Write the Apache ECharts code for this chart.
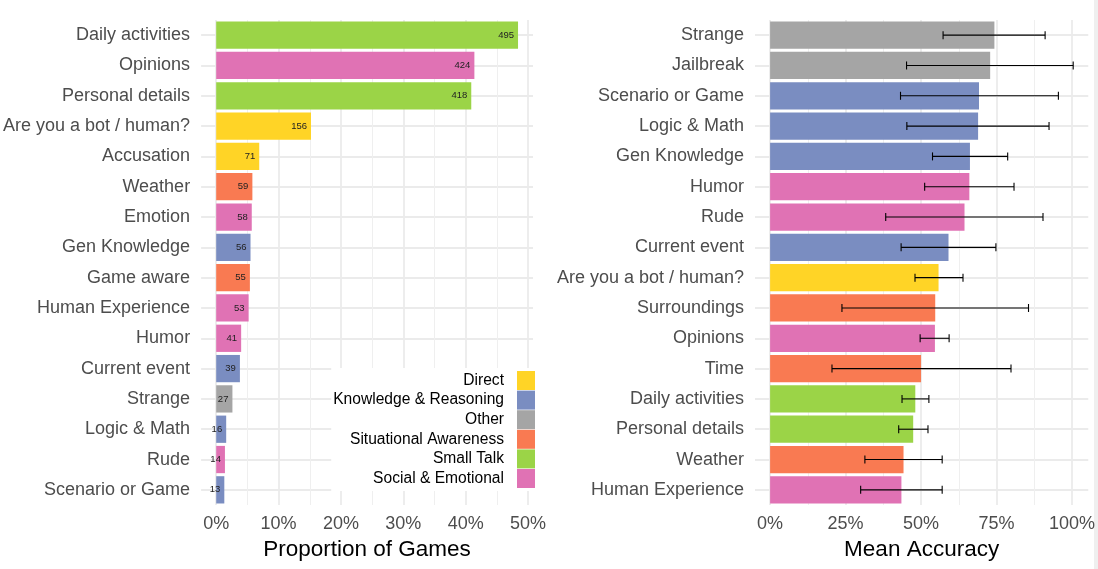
<!DOCTYPE html>
<html>
<head>
<meta charset="utf-8">
<script src="https://cdn.jsdelivr.net/npm/echarts@6/dist/echarts.min.js"></script>
<style>
  html, body { margin: 0; padding: 0; background: #fff; }
  #chart { width: 1098px; height: 569px; }
</style>
</head>
<body>
<div id="chart"></div>
<script>
// 分组及颜色
var groupNames = ['Direct', 'Knowledge & Reasoning', 'Other', 'Situational Awareness', 'Small Talk', 'Social & Emotional'];
var groupColors = ['#FFD426', '#7A8DC1', '#A5A5A5', '#F97A52', '#9BD447', '#E072B4'];

// 左图：游戏占比
var leftCategories = ['Daily activities', 'Opinions', 'Personal details', 'Are you a bot / human?', 'Accusation',
    'Weather', 'Emotion', 'Gen Knowledge', 'Game aware', 'Human Experience', 'Humor', 'Current event',
    'Strange', 'Logic & Math', 'Rude', 'Scenario or Game'];
var leftGroups = ['Small Talk', 'Social & Emotional', 'Small Talk', 'Direct', 'Direct',
    'Situational Awareness', 'Social & Emotional', 'Knowledge & Reasoning', 'Situational Awareness', 'Social & Emotional', 'Social & Emotional', 'Knowledge & Reasoning',
    'Other', 'Knowledge & Reasoning', 'Social & Emotional', 'Knowledge & Reasoning'];
var leftProportion = [0.484, 0.414, 0.409, 0.152, 0.069, 0.058, 0.057, 0.055, 0.054, 0.052, 0.040, 0.038, 0.026, 0.016, 0.014, 0.013];
var leftCounts = [495, 424, 418, 156, 71, 59, 58, 56, 55, 53, 41, 39, 27, 16, 14, 13];
var leftMajorTicks = [0, 0.1, 0.2, 0.3, 0.4, 0.5];
var leftMinorTicks = [0.05, 0.15, 0.25, 0.35, 0.45];

// 右图：平均准确率
var rightCategories = ['Strange', 'Jailbreak', 'Scenario or Game', 'Logic & Math', 'Gen Knowledge', 'Humor', 'Rude',
    'Current event', 'Are you a bot / human?', 'Surroundings', 'Opinions', 'Time', 'Daily activities',
    'Personal details', 'Weather', 'Human Experience'];
var rightGroups = ['Other', 'Other', 'Knowledge & Reasoning', 'Knowledge & Reasoning', 'Knowledge & Reasoning', 'Social & Emotional', 'Social & Emotional',
    'Knowledge & Reasoning', 'Direct', 'Situational Awareness', 'Social & Emotional', 'Situational Awareness', 'Small Talk',
    'Small Talk', 'Situational Awareness', 'Social & Emotional'];
var rightAccuracy = [0.743, 0.729, 0.692, 0.689, 0.662, 0.660, 0.644, 0.591, 0.558, 0.547, 0.546, 0.500, 0.481, 0.474, 0.442, 0.435];
var rightLower = [0.573, 0.452, 0.432, 0.453, 0.538, 0.512, 0.383, 0.434, 0.480, 0.238, 0.497, 0.205, 0.437, 0.426, 0.314, 0.300];
var rightUpper = [0.911, 1.004, 0.955, 0.924, 0.787, 0.808, 0.904, 0.748, 0.639, 0.856, 0.593, 0.798, 0.526, 0.523, 0.570, 0.570];
var rightMajorTicks = [0, 0.25, 0.5, 0.75, 1];
var rightMinorTicks = [0.125, 0.375, 0.625, 0.875];

var gridColor = '#EBEBEB';
var textColor = '#4D4D4D';
var fontName = '"Liberation Sans", Arial, sans-serif';

function pct(v) {
    return Math.round(v * 100) + '%';
}

// 主刻度坐标轴（带标签）
function majorAxis(gridIndex, min, max, ticks, title) {
    return {
        type: 'value', gridIndex: gridIndex, min: min, max: max,
        name: title, nameLocation: 'middle', nameGap: 33,
        nameTextStyle: { fontSize: 22.5, color: '#000', fontFamily: fontName },
        axisLine: { show: false },
        axisTick: { show: false, customValues: ticks },
        axisLabel: { customValues: ticks, formatter: pct, fontSize: 18, color: textColor, margin: 10, fontFamily: fontName },
        splitLine: { show: true, lineStyle: { color: gridColor, width: 1.8 } }
    };
}

// 次刻度坐标轴（只画网格线）
function minorAxis(gridIndex, min, max, ticks) {
    return {
        type: 'value', gridIndex: gridIndex, min: min, max: max, position: 'top',
        axisLine: { show: false },
        axisTick: { show: false, customValues: ticks },
        axisLabel: { show: false },
        splitLine: { show: true, lineStyle: { color: '#EFEFEF', width: 1 } }
    };
}

function categoryAxis(gridIndex, cats) {
    return {
        type: 'category', gridIndex: gridIndex, data: cats, inverse: true,
        axisLine: { show: false },
        axisTick: { show: false },
        axisLabel: { fontSize: 18, color: textColor, margin: 11, fontFamily: fontName },
        splitLine: { show: true, alignWithLabel: true, lineStyle: { color: gridColor, width: 1.8 } }
    };
}

var series = [];
for (var g = 0; g < groupNames.length; g++) {
    var leftData = [], rightData = [];
    for (var i = 0; i < leftCategories.length; i++) {
        leftData.push(leftGroups[i] === groupNames[g] ? leftProportion[i] : '-');
    }
    for (var j = 0; j < rightCategories.length; j++) {
        rightData.push(rightGroups[j] === groupNames[g] ? rightAccuracy[j] : '-');
    }
    series.push({
        name: groupNames[g], type: 'bar', stack: 'left', xAxisIndex: 0, yAxisIndex: 0,
        barCategoryGap: '10%', data: leftData,
        itemStyle: { color: groupColors[g] },
        label: {
            show: true, position: 'insideRight', distance: 4, fontSize: 9.5, color: '#222', fontFamily: fontName,
            formatter: function (p) { return leftCounts[p.dataIndex]; }
        }
    });
    series.push({
        name: groupNames[g], type: 'bar', stack: 'right', xAxisIndex: 2, yAxisIndex: 1,
        barCategoryGap: '10%', data: rightData,
        itemStyle: { color: groupColors[g] }
    });
}

// 误差线
var errData = [];
for (var k = 0; k < rightCategories.length; k++) {
    errData.push([rightLower[k], rightUpper[k], k]);
}
series.push({
    type: 'custom', xAxisIndex: 2, yAxisIndex: 1, z: 5,
    encode: { x: [0, 1], y: 2 },
    data: errData,
    renderItem: function (params, api) {
        var p1 = api.coord([api.value(0), api.value(2)]);
        var p2 = api.coord([api.value(1), api.value(2)]);
        var h = 4;
        var style = { stroke: '#000', lineWidth: 1.1 };
        return {
            type: 'group',
            children: [
                { type: 'line', shape: { x1: p1[0], y1: p1[1], x2: p2[0], y2: p2[1] }, style: style },
                { type: 'line', shape: { x1: p1[0], y1: p1[1] - h, x2: p1[0], y2: p1[1] + h }, style: style },
                { type: 'line', shape: { x1: p2[0], y1: p2[1] - h, x2: p2[0], y2: p2[1] + h }, style: style }
            ]
        };
    }
});

var chart = echarts.init(document.getElementById('chart'));
var option = {
    backgroundColor: '#fff',
    animation: false,
    grid: [
        { left: 200, right: 565, top: 20, bottom: 64 },
        { left: 755, right: 9, top: 20, bottom: 64 }
    ],
    xAxis: [
        majorAxis(0, -0.0242, 0.508, leftMajorTicks, 'Proportion of Games'),
        minorAxis(0, -0.0242, 0.508, leftMinorTicks),
        majorAxis(1, -0.050, 1.054, rightMajorTicks, 'Mean Accuracy'),
        minorAxis(1, -0.050, 1.054, rightMinorTicks)
    ],
    yAxis: [
        categoryAxis(0, leftCategories),
        categoryAxis(1, rightCategories)
    ],
    legend: {
        data: groupNames, orient: 'vertical', align: 'right',
        right: 563, top: 368, icon: 'rect', itemWidth: 18, itemHeight: 19, itemGap: 0.6,
        selectedMode: false, backgroundColor: '#fff', padding: [3, 0, 3, 2],
        textStyle: { fontSize: 15.6, color: '#000', fontFamily: fontName, padding: [0, 8, 0, 0] }
    },
    graphic: [
        { type: 'rect', shape: { x: 1094, y: 0, width: 4, height: 569 }, style: { fill: '#EFEFEF' } }
    ],
    series: series
};
chart.setOption(option);
</script>
</body>
</html>
